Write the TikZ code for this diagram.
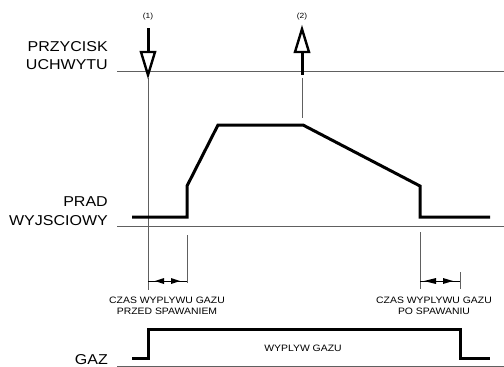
\documentclass[tikz,border=0pt]{standalone}
\usepackage{fontspec}
\setmainfont{Liberation Sans}[FakeStretch=1.12]
\tikzset{
  thinl/.style={draw=gray!75!black, line width=0.8pt},
  trace/.style={line width=3pt, line join=miter},
  openhead/.style={line width=2.4pt, line join=miter, fill=white},
  shaft/.style={line width=3pt},
  dimtip/.style={fill=black, draw=none},
  biglbl/.style={font=\fontsize{14.3}{17}\selectfont, anchor=east, inner sep=0pt},
  smalllbl/.style={font=\fontsize{9.3}{11}\selectfont, align=center, inner sep=0pt},
  numlbl/.style={font=\fontsize{7.5}{9}\selectfont, inner sep=0pt}
}
\begin{document}
\begin{tikzpicture}[x=1pt,y=-1pt]
\useasboundingbox (0,0) rectangle (504,367);
% baselines
\coordinate (b1s) at (117,71);  \coordinate (b1e) at (504,71);
\coordinate (b2s) at (117,226); \coordinate (b2e) at (504,226);
\coordinate (b3s) at (117,366); \coordinate (b3e) at (504,366);
\draw[thinl] (b1s) -- (b1e);
\draw[thinl] (b2s) -- (b2e);
\draw[thinl] (b3s) -- (b3e);
% labels
\node[biglbl] (l1) at (108,47) {PRZYCISK};
\node[biglbl] (l2) at (108,65) {UCHWYTU};
\node[biglbl] (l3) at (108,202) {PRAD};
\node[biglbl] (l4) at (108,221) {WYJSCIOWY};
\node[biglbl] (l5) at (108,360) {GAZ};
% vertical guide lines
\draw[thinl] (148,78) -- (148,290);
\draw[thinl] (302,78) -- (302,118);
\draw[thinl] (187,235) -- (187,283);
\draw[thinl] (420,232) -- (420,289);
\draw[thinl] (460,272) -- (460,289);
% arrow (1)
\node[numlbl] (n1) at (148,17) {(1)};
\draw[shaft] (148,28) -- (148,52);
\draw[openhead] (141,52) -- (155,52) -- (148,75) -- cycle;
% arrow (2)
\node[numlbl] (n2) at (302,17) {(2)};
\draw[shaft] (302,52) -- (302,75);
\draw[openhead] (295,52) -- (309,52) -- (302,29) -- cycle;
% output current trace
\draw[trace] (132,217) -- (187,217) -- (187,186) -- (218,125) -- (303,125)
  -- (420,186) -- (420,217) -- (490,217);
% gas trace
\draw[trace] (132,358) -- (148,358) -- (148,329) -- (460,329) -- (460,358) -- (490,358);
% dimension arrows
\draw[thinl, draw=black, line width=0.7pt] (148,281) -- (187,281);
\fill[dimtip] (155,281) -- (164,278) -- (164,284) -- cycle;
\fill[dimtip] (180,281) -- (171,278) -- (171,284) -- cycle;
\draw[thinl, draw=black, line width=0.7pt] (420,281) -- (460,281);
\fill[dimtip] (424,281) -- (436,278) -- (436,284) -- cycle;
\fill[dimtip] (453,281) -- (443,278) -- (443,284) -- cycle;
% small labels
\node[smalllbl] (t1) at (167,306) {CZAS WYPLYWU GAZU\\PRZED SPAWANIEM};
\node[smalllbl] (t2) at (434,306) {CZAS WYPLYWU GAZU\\PO SPAWANIU};
\node[smalllbl] (t3) at (303,348) {WYPLYW GAZU};
\end{tikzpicture}
\end{document}
